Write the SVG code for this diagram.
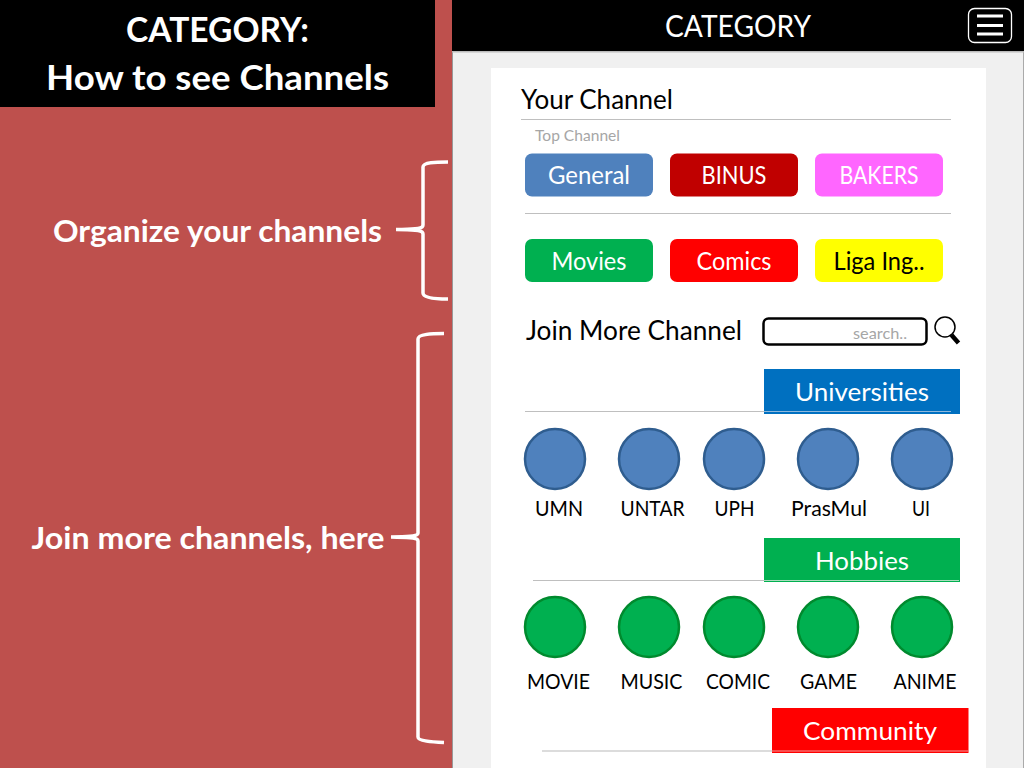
<svg xmlns="http://www.w3.org/2000/svg" width="1024" height="768" viewBox="0 0 1024 768">
<style>
text{font-family:Lato,"Open Sans",sans-serif;text-anchor:middle}
.h{font-weight:700;font-size:34px;fill:#fff}
.n{font-weight:700;font-size:31px}
.w{font-size:24.5px;fill:#fff}
.k{font-size:21.5px;fill:#000}
.b{fill:none;stroke:#fff;stroke-width:3.5}
.r{fill:none;stroke:#bfbfbf;stroke-width:1.2}
.cb{fill:#4f81bd;stroke:#2f5d8f;stroke-width:2.5}
.cg{fill:#00b050;stroke:#008a2e;stroke-width:2.5}
</style>
<rect width="1024" height="768" fill="#be504d"/>
<rect x="452" y="0" width="572" height="768" fill="#f0f0f0"/>
<rect x="452" y="0" width="1" height="768" fill="#999"/>
<rect x="1023" y="50" width="1" height="718" fill="#aaa"/>
<rect x="452" y="0" width="572" height="51" fill="#000"/>
<rect x="452" y="51" width="572" height="1.5" fill="#bbb"/>
<rect x="491" y="68" width="495" height="700" fill="#fff"/>
<g id="title"><rect width="435" height="107" fill="#000"/>
<text class="h" x="217.500" y="42" textLength="183" lengthAdjust="spacingAndGlyphs">CATEGORY:</text>
<text class="h" x="217.500" y="90" textLength="343" lengthAdjust="spacingAndGlyphs">How to see Channels</text></g>
<g id="header"><text x="738" y="37" font-size="30" fill="#fff" textLength="146" lengthAdjust="spacingAndGlyphs">CATEGORY</text>
<rect x="968.500" y="8.500" width="43" height="34" rx="6" fill="none" stroke="#fff" stroke-width="1.300"/>
<path d="M977 16h26M977 25.500h26M977 34h26" stroke="#fff" stroke-width="3" fill="none"/></g>
<g id="connectors">
<path class="b" d="M448 162C436 162 423 162 423 167V225C423 228 421 229.500 396 229.500C421 229.500 423 231 423 234V293C423 298 436 299 448 299"/>
<path class="b" d="M444 333.500C432 333.500 418 334 418 339V533C418 535.500 416 536.500 391 537C416 537.500 418 538.500 418 541V737C418 741 432 742 444 742.500"/>
</g>
<g id="note-organize"><text class="n" x="217.500" y="242" fill="#fff" textLength="329" lengthAdjust="spacingAndGlyphs">Organize your channels</text></g>
<g id="note-join"><text class="n" x="208" y="549" fill="#fff" textLength="353" lengthAdjust="spacingAndGlyphs">Join more channels, here</text></g>
<g id="your-channel"><text x="597" y="109" font-size="27" fill="#000" textLength="152" lengthAdjust="spacingAndGlyphs">Your Channel</text>
<path class="r" d="M521 119.500H951"/>
<text x="577.500" y="141" font-size="16" fill="#a6a6a6" textLength="85" lengthAdjust="spacingAndGlyphs">Top Channel</text></g>
<g id="btn-general"><rect x="525" y="153.500" width="128" height="43" rx="7" fill="#4f81bd"/><text class="w" x="589" y="184" textLength="82" lengthAdjust="spacingAndGlyphs">General</text></g>
<g id="btn-binus"><rect x="670" y="153.500" width="128" height="43" rx="7" fill="#c00000"/><text class="w" x="734" y="184" textLength="65" lengthAdjust="spacingAndGlyphs">BINUS</text></g>
<g id="btn-bakers"><rect x="815" y="153.500" width="128" height="43" rx="7" fill="#ff66ff"/><text class="w" x="879" y="184" textLength="79" lengthAdjust="spacingAndGlyphs">BAKERS</text></g>
<path class="r" d="M525 213.500H951"/>
<g id="btn-movies"><rect x="525" y="239" width="128" height="43" rx="7" fill="#00b050"/><text class="w" x="589" y="270" textLength="75" lengthAdjust="spacingAndGlyphs">Movies</text></g>
<g id="btn-comics"><rect x="670" y="239" width="128" height="43" rx="7" fill="#ff0000"/><text class="w" x="734" y="270" textLength="75" lengthAdjust="spacingAndGlyphs">Comics</text></g>
<g id="btn-liga"><rect x="815" y="239" width="128" height="43" rx="7" fill="#ffff00"/><text x="879" y="270" font-size="24.500" fill="#000" textLength="91" lengthAdjust="spacingAndGlyphs">Liga Ing..</text></g>
<g id="join-more"><text x="634" y="340" font-size="27" fill="#000" textLength="216" lengthAdjust="spacingAndGlyphs">Join More Channel</text></g>
<g id="search"><rect x="763.500" y="318.500" width="163" height="26" rx="5" fill="#fff" stroke="#000" stroke-width="2.500"/>
<text x="880" y="339" font-size="16" fill="#a6a6a6" textLength="54" lengthAdjust="spacingAndGlyphs">search..</text>
<circle cx="945" cy="327" r="10" fill="none" stroke="#000" stroke-width="1.500"/>
<path d="M951.500 335L958.500 343" stroke="#000" stroke-width="4.500" fill="none"/></g>
<g id="universities"><path class="r" d="M525 411.500H951"/><rect x="764" y="369" width="196" height="45" fill="#0070c0"/>
<path d="M764 411.500H951" stroke="#8fb8dc" stroke-width="1"/>
<text class="w" x="862" y="401" textLength="134" lengthAdjust="spacingAndGlyphs">Universities</text></g>
<g id="n-umn"><circle class="cb" cx="555" cy="459" r="30"/><text class="k" x="559" y="516" textLength="48" lengthAdjust="spacingAndGlyphs">UMN</text></g>
<g id="n-untar"><circle class="cb" cx="649" cy="459" r="30"/><text class="k" x="652.500" y="516" textLength="64" lengthAdjust="spacingAndGlyphs">UNTAR</text></g>
<g id="n-uph"><circle class="cb" cx="734" cy="459" r="30"/><text class="k" x="734.500" y="516" textLength="40" lengthAdjust="spacingAndGlyphs">UPH</text></g>
<g id="n-prasmul"><circle class="cb" cx="828" cy="459" r="30"/><text class="k" x="829" y="516" textLength="76" lengthAdjust="spacingAndGlyphs">PrasMul</text></g>
<g id="n-ui"><circle class="cb" cx="922" cy="459" r="30"/><text class="k" x="921" y="516" textLength="18" lengthAdjust="spacingAndGlyphs">UI</text></g>
<g id="hobbies"><path class="r" d="M533 580.500H959"/><rect x="764" y="538" width="196" height="44" fill="#00b050"/>
<path d="M764 580.500H959" stroke="#a8dcbc" stroke-width="1"/>
<text class="w" x="862" y="570" textLength="94" lengthAdjust="spacingAndGlyphs">Hobbies</text></g>
<g id="n-movie"><circle class="cg" cx="555" cy="627" r="30"/><text class="k" x="558.500" y="689" textLength="63" lengthAdjust="spacingAndGlyphs">MOVIE</text></g>
<g id="n-music"><circle class="cg" cx="649" cy="627" r="30"/><text class="k" x="651.500" y="689" textLength="62" lengthAdjust="spacingAndGlyphs">MUSIC</text></g>
<g id="n-comic"><circle class="cg" cx="734" cy="627" r="30"/><text class="k" x="738" y="689" textLength="64" lengthAdjust="spacingAndGlyphs">COMIC</text></g>
<g id="n-game"><circle class="cg" cx="828" cy="627" r="30"/><text class="k" x="828.500" y="689" textLength="57" lengthAdjust="spacingAndGlyphs">GAME</text></g>
<g id="n-anime"><circle class="cg" cx="922" cy="627" r="30"/><text class="k" x="925" y="689" textLength="63" lengthAdjust="spacingAndGlyphs">ANIME</text></g>
<g id="community"><path d="M542 751H968" stroke="#d0d0d0" stroke-width="1.500" fill="none"/><rect x="772" y="708" width="196.500" height="45" fill="#ff0000"/>
<path d="M772 751H968" stroke="#f59a9a" stroke-width="1"/>
<text class="w" x="870" y="740" textLength="134" lengthAdjust="spacingAndGlyphs">Community</text></g>
</svg>
